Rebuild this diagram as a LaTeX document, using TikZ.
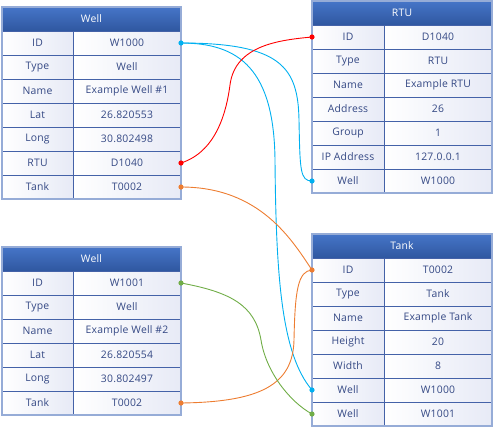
\documentclass[tikz,border=0pt]{standalone}
\usepackage{fontspec}
\setmainfont{Open Sans}[LetterSpace=2]
\definecolor{hdtop}{RGB}{70,117,200}
\definecolor{hdbot}{RGB}{47,87,160}
\definecolor{gridblue}{RGB}{68,98,168}
\definecolor{rimblue}{RGB}{150,172,215}
\definecolor{celltxt}{RGB}{52,72,132}
\definecolor{cellend}{RGB}{231,234,246}
\definecolor{wirecyan}{RGB}{0,176,240}
\definecolor{wirered}{RGB}{255,0,0}
\definecolor{wireorange}{RGB}{237,125,49}
\definecolor{wiregreen}{RGB}{112,173,71}

\begin{document}
\begin{tikzpicture}[
  x=1pt, y=-1pt,
  font=\fontsize{10.4}{12}\selectfont,
  cell/.style={draw=gridblue, line width=0.7pt, minimum height=24pt, inner sep=0pt, outer sep=0pt, anchor=north west, text=celltxt, left color=white, right color=cellend},
  keycell/.style={cell, minimum width=71pt},
  valcell/.style={cell, minimum width=108pt},
  head/.style={draw=gridblue, line width=0.7pt, minimum width=179pt, minimum height=24pt, inner sep=0pt, outer sep=0pt, anchor=north west, text=white, top color=hdtop, bottom color=hdbot},
  rim/.style={draw=rimblue, line width=1.5pt},
  wire/.style={line width=0.9pt}
]
\useasboundingbox (0,0) rectangle (493,429);

% Well W1000
\node[head] (wa-h) at (2,7) {Well};
\foreach \k/\v [count=\i] in {ID/W1000, Type/Well, Name/Example Well \#1, Lat/26.820553, Long/30.802498, RTU/D1040, Tank/T0002} {
  \node[keycell] (wa-k\i) at (2,{7+24*\i}) {\k};
  \node[valcell] (wa-v\i) at (73,{7+24*\i}) {\v};
}
\draw[rim] (wa-h.north west) rectangle (wa-v7.south east);

% Well W1001
\node[head] (wb-h) at (2,247) {Well};
\foreach \k/\v [count=\i] in {ID/W1001, Type/Well, Name/Example Well \#2, Lat/26.820554, Long/30.802497, Tank/T0002} {
  \node[keycell] (wb-k\i) at (2,{247+24*\i}) {\k};
  \node[valcell] (wb-v\i) at (73,{247+24*\i}) {\v};
}
\draw[rim] (wb-h.north west) rectangle (wb-v6.south east);

% RTU
\node[head, minimum width=180pt] (rtu-h) at (312,1) {RTU};
\foreach \k/\v [count=\i] in {ID/D1040, Type/RTU, Name/Example RTU, Address/26, Group/1, IP Address/127.0.0.1, Well/W1000} {
  \node[keycell, minimum width=72pt] (rtu-k\i) at (312,{1+24*\i}) {\k};
  \node[valcell] (rtu-v\i) at (384,{1+24*\i}) {\v};
}
\draw[rim] (rtu-h.north west) rectangle (rtu-v7.south east);

% Tank
\node[head, minimum width=180pt] (tank-h) at (312,234) {Tank};
\foreach \k/\v [count=\i] in {ID/T0002, Type/Tank, Name/Example Tank, Height/20, Width/8, Well/W1000, Well/W1001} {
  \node[keycell, minimum width=72pt] (tank-k\i) at (312,{234+24*\i}) {\k};
  \node[valcell] (tank-v\i) at (384,{234+24*\i}) {\v};
}
\draw[rim] (tank-h.north west) rectangle (tank-v7.south east);

% links
\draw[wire, wirecyan] (wa-v1.east) .. controls (282,43) and (298,68) .. (299,120)
  .. controls (300,170) and (300,181) .. (rtu-k7.west);
\draw[wire, wirecyan] (wa-v1.east) .. controls (240,43) and (274,70) .. (275,160)
  .. controls (276,280) and (282,355) .. (tank-k6.west);
\draw[wire, wirered] (wa-v6.east) .. controls (215,152) and (226,115) .. (230,85)
  .. controls (235,45) and (280,40) .. (rtu-k1.west);
\draw[wire, wireorange] (wa-v7.east) .. controls (260,187) and (292,240) .. (tank-k1.west);
\draw[wire, wireorange] (wb-v6.east) .. controls (260,402) and (293,385) .. (294,340)
  .. controls (295,290) and (298,271) .. (tank-k1.west);
\draw[wire, wiregreen] (wb-v1.east) .. controls (230,292) and (255,305) .. (261,340)
  .. controls (266,372) and (290,402) .. (tank-k7.west);

\foreach \p/\c in {wa-v1.east/wirecyan, rtu-k7.west/wirecyan, tank-k6.west/wirecyan,
  wa-v6.east/wirered, rtu-k1.west/wirered, wa-v7.east/wireorange, wb-v6.east/wireorange,
  tank-k1.west/wireorange, wb-v1.east/wiregreen, tank-k7.west/wiregreen}
  \fill[\c] (\p) circle[radius=2.6pt];

\end{tikzpicture}
\end{document}
